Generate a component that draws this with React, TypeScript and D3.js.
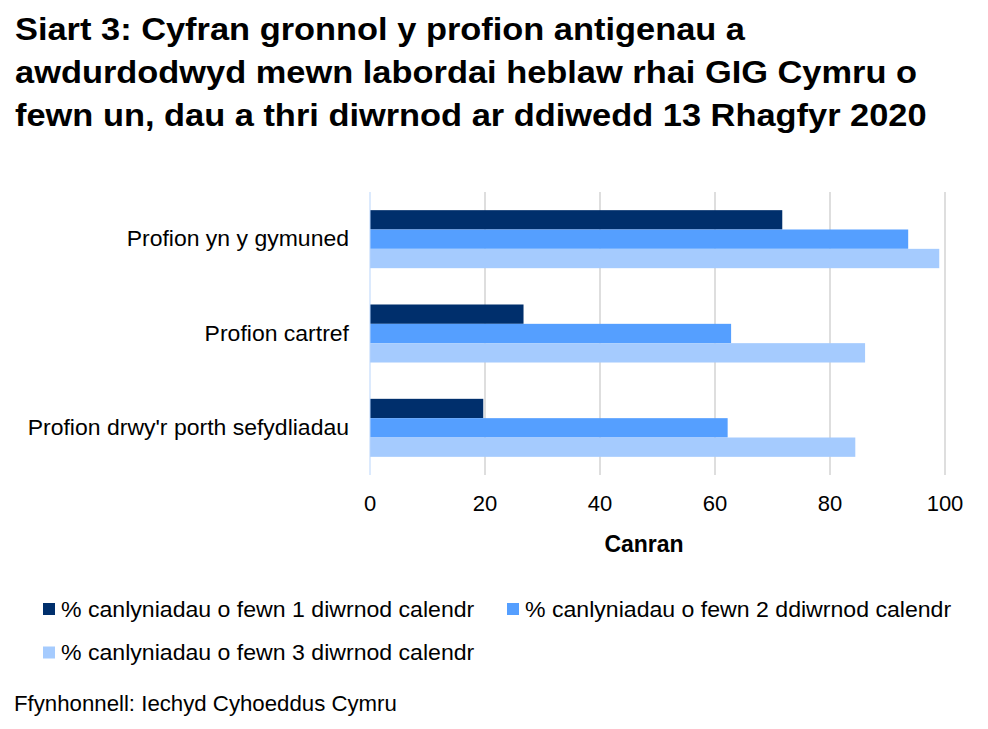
import React from 'react';
import * as d3 from 'd3';

const titleLines = [
  'Siart 3: Cyfran gronnol y profion antigenau a',
  'awdurdodwyd mewn labordai heblaw rhai GIG Cymru o',
  'fewn un, dau a thri diwrnod ar ddiwedd 13 Rhagfyr 2020',
];
const categories = ['Profion yn y gymuned', 'Profion cartref', "Profion drwy'r porth sefydliadau"];
const seriesNames = [
  '% canlyniadau o fewn 1 diwrnod calendr',
  '% canlyniadau o fewn 2 ddiwrnod calendr',
  '% canlyniadau o fewn 3 diwrnod calendr',
];
const within1 = [71.7, 26.7, 19.7];
const within2 = [93.6, 62.8, 62.2];
const within3 = [99.0, 86.1, 84.4];
const xTicks = [0, 20, 40, 60, 80, 100];
const colors = ['#002f6c', '#559fff', '#a5cbfe'];
const axisTitle = 'Canran';
const source = 'Ffynhonnell: Iechyd Cyhoeddus Cymru';

const font = 'Liberation Sans, Arial, sans-serif';

// text with a slight horizontal stretch, to match the wide glyphs of the reference
function T({ x, y, sx = 1, anchor = 'start', size, bold = false, children }: any) {
  return (
    <text
      transform={`translate(${x},${y}) scale(${sx},1)`}
      textAnchor={anchor}
      fontSize={size}
      fontWeight={bold ? 'bold' : 'normal'}
      fill="#000"
    >
      {children}
    </text>
  );
}

export default function App() {
  const width = 988;
  const height = 729;
  const plot = { left: 370, right: 945, top: 192, bottom: 475 };

  const series = [within1, within2, within3];

  const x = d3.scaleLinear().domain([0, 100]).range([plot.left, plot.right]);
  const y = d3
    .scaleBand<string>()
    .domain(categories)
    .range([plot.top, plot.bottom])
    .paddingInner(0.385)
    .paddingOuter(0.1925);
  const inner = d3
    .scaleBand<number>()
    .domain([0, 1, 2])
    .range([0, y.bandwidth()]);

  const legendItems = [
    { name: seriesNames[0], color: colors[0], x: 43, y: 609 },
    { name: seriesNames[1], color: colors[1], x: 507, y: 609 },
    { name: seriesNames[2], color: colors[2], x: 43, y: 652.5 },
  ];

  return (
    <svg width={width} height={height} style={{ position: 'absolute', left: 0, top: 0, fontFamily: font }}>
      <rect width={width} height={height} fill="#ffffff" />

      {/* Title */}
      {titleLines.map((line, i) => (
        <T key={i} x={15} y={39.5 + i * 43.3} sx={1.11} size={31} bold>
          {line}
        </T>
      ))}

      {/* Gridlines */}
      {xTicks.slice(1).map((t) => (
        <line key={t} x1={x(t)} x2={x(t)} y1={plot.top} y2={plot.bottom} stroke="#bdbdbd" strokeWidth={1} />
      ))}

      {/* Bars */}
      {categories.map((c, ci) => (
        <g key={c} transform={`translate(0,${y(c)})`}>
          {series.map((s, si) => (
            <rect
              key={si}
              x={x(0)}
              y={inner(si)}
              width={x(s[ci]) - x(0)}
              height={inner.bandwidth()}
              fill={colors[si]}
            />
          ))}
        </g>
      ))}

      {/* Axis line */}
      <line x1={x(0)} x2={x(0)} y1={plot.top} y2={plot.bottom} stroke="#b9d5fb" strokeWidth={1} />

      {/* Category labels */}
      {categories.map((c) => (
        <T key={c} x={349} y={y(c)! + y.bandwidth() / 2 + 7} sx={1.045} anchor="end" size={22}>
          {c}
        </T>
      ))}

      {/* Tick labels */}
      {xTicks.map((t) => (
        <T key={t} x={x(t)} y={511} anchor="middle" size={22}>
          {t}
        </T>
      ))}

      <T x={644} y={551.5} anchor="middle" size={23} bold>
        {axisTitle}
      </T>

      {/* Legend */}
      {legendItems.map((item) => (
        <g key={item.name}>
          <rect x={item.x} y={item.y - 6} width={12} height={12} fill={item.color} />
          <T x={item.x + 18} y={item.y + 7.5} sx={1.05} size={22}>
            {item.name}
          </T>
        </g>
      ))}

      <T x={14} y={711} sx={1.01} size={22}>
        {source}
      </T>
    </svg>
  );
}
